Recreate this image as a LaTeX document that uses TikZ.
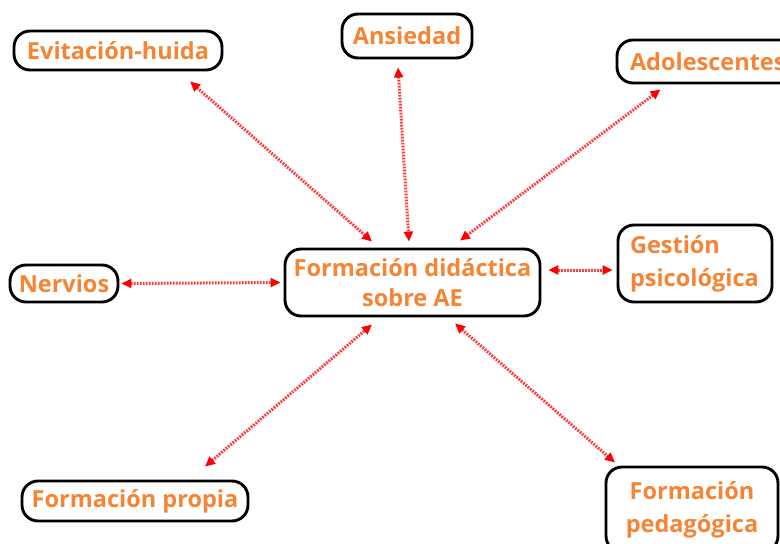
\documentclass[tikz,border=0pt]{standalone}
\usepackage{fontspec}
\setmainfont{Open Sans}
\usetikzlibrary{arrows.meta}
\definecolor{txtorange}{RGB}{245,132,52}
\definecolor{linkred}{RGB}{255,60,60}
\tikzset{
  conbox/.style={draw=black, line width=2.9pt, rounded corners=16pt, fill=white,
    text=txtorange, font=\fontsize{23.5}{32}\selectfont\bfseries, inner sep=0pt, align=center},
  link/.style={draw=linkred, line width=3pt, dash pattern=on 1.8pt off 1.2pt,
    {Triangle[length=10pt,width=9pt,color=red]}-{Triangle[length=10pt,width=9pt,color=red]}},
}
\begin{document}
\begin{tikzpicture}[x=1pt,y=-1pt]
\useasboundingbox (0,0) rectangle (780,544);
\clip (0,0) rectangle (780,544);
\node[conbox, minimum width=208pt, minimum height=39pt] (evit) at (118,50.5) {Evitación-huida};
\node[conbox, minimum width=130pt, minimum height=44pt] (ansi) at (407,36) {Ansiedad};
\node[conbox, minimum width=180pt, minimum height=43pt, text width=176pt, align=left] (adol) at (707,61.5) {\hspace*{11pt}Adolescentes};
\node[conbox, minimum width=108pt, minimum height=37pt] (nerv) at (64,283.5) {Nervios};
\node[conbox, minimum width=255pt, minimum height=67pt] (cent) at (412.5,282.5) {\raisebox{0pt}{\parbox{250pt}{\centering\baselineskip=30pt Formación didáctica\\sobre AE}}};
\node[conbox, minimum width=154pt, minimum height=77pt] (gest) at (695,263.5) {\raisebox{4pt}{\parbox{130pt}{\raggedright\baselineskip=33pt Gestión\\psicológica}}};
\node[conbox, minimum width=226pt, minimum height=40pt] (prop) at (135,501) {Formación propia};
\node[conbox, minimum width=172pt, minimum height=85pt] (peda) at (692,509.5) {\raisebox{7pt}{\parbox{165pt}{\centering\baselineskip=33pt Formación\\pedagógica}}};
\draw[link] ([xshift=72pt,yshift=-10pt]evit.south) -- ([xshift=-40.5pt,yshift=6pt]cent.north);
\draw[link] ([xshift=-9pt,yshift=-8pt]ansi.south) -- ([xshift=-3.5pt,yshift=6pt]cent.north);
\draw[link] ([xshift=-46.5pt,yshift=-5pt]adol.south) -- ([xshift=47.5pt,yshift=7pt]cent.north);
\draw[link] ([xshift=2pt]nerv.east) -- ([xshift=-3pt]cent.west);
\draw[link] ([xshift=7pt,yshift=12.5pt]cent.east) -- ([xshift=-4pt,yshift=-6.5pt]gest.west);
\draw[link] ([xshift=70pt,yshift=13pt]prop.north) -- ([xshift=-40.5pt,yshift=-7pt]cent.south);
\draw[link] ([xshift=42.5pt,yshift=-6pt]cent.south) -- ([xshift=-77pt,yshift=3pt]peda.north);
\end{tikzpicture}
\end{document}
